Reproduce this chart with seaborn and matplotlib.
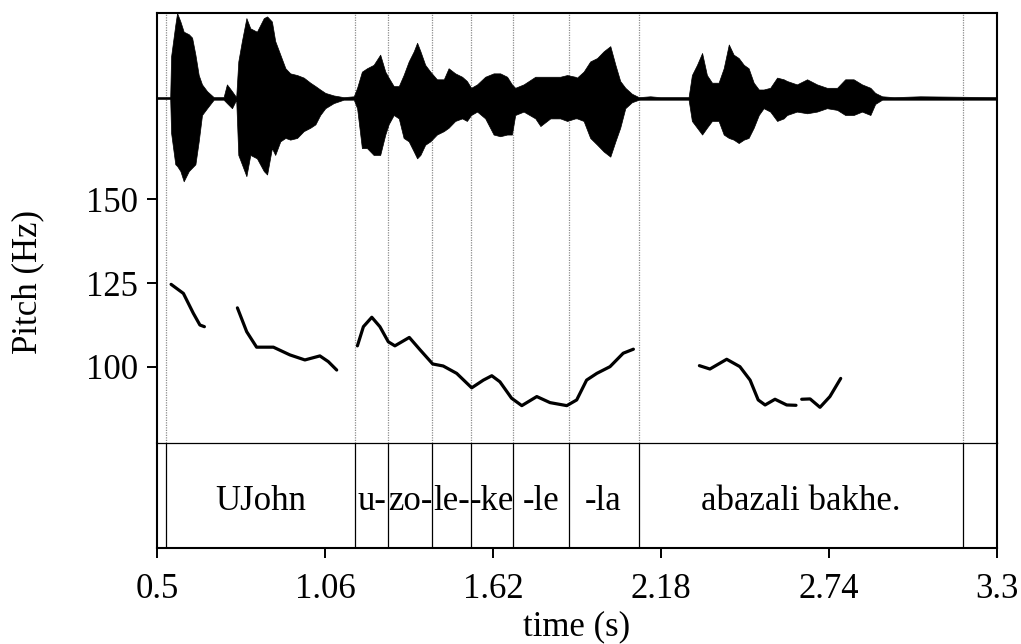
import pandas as pd
import seaborn as sns
import matplotlib.pyplot as plt

# waveform envelope (time in s, upper / lower amplitude, normalised)
wave_time = [0.500, 0.544, 0.547, 0.561, 0.567, 0.578, 0.589, 0.606, 0.617, 0.628,
             0.639, 0.650, 0.667, 0.689, 0.722, 0.733, 0.750, 0.764, 0.771, 0.783,
             0.798, 0.811, 0.833, 0.856, 0.867, 0.883, 0.894, 0.911, 0.928, 0.944,
             0.967, 0.989, 1.011, 1.028, 1.044, 1.061, 1.089, 1.122, 1.156, 1.167,
             1.183, 1.200, 1.222, 1.244, 1.261, 1.272, 1.289, 1.306, 1.322, 1.339,
             1.356, 1.367, 1.378, 1.394, 1.411, 1.433, 1.456, 1.472, 1.494, 1.517,
             1.533, 1.547, 1.567, 1.594, 1.622, 1.644, 1.667, 1.683, 1.694, 1.722,
             1.761, 1.778, 1.811, 1.844, 1.867, 1.894, 1.900, 1.922, 1.944, 1.967,
             1.989, 2.011, 2.028, 2.044, 2.061, 2.083, 2.106, 2.144, 2.178, 2.233,
             2.272, 2.283, 2.300, 2.317, 2.333, 2.350, 2.372, 2.389, 2.406, 2.422,
             2.439, 2.456, 2.472, 2.489, 2.506, 2.522, 2.544, 2.567, 2.589, 2.600,
             2.633, 2.667, 2.700, 2.733, 2.767, 2.794, 2.822, 2.850, 2.878, 2.894,
             2.917, 2.956, 3.044, 3.300]
wave_upper = [0.01, 0.01, 0.49, 0.86, 1.00, 0.90, 0.78, 0.75, 0.71, 0.51,
              0.27, 0.16, 0.08, 0.01, 0.01, 0.16, 0.08, 0.01, 0.43, 0.67,
              0.94, 0.82, 0.78, 0.94, 0.96, 0.90, 0.67, 0.51, 0.35, 0.29,
              0.27, 0.24, 0.18, 0.14, 0.10, 0.06, 0.03, 0.01, 0.02, 0.12,
              0.31, 0.35, 0.39, 0.51, 0.31, 0.24, 0.14, 0.14, 0.27, 0.43,
              0.55, 0.65, 0.55, 0.39, 0.31, 0.22, 0.22, 0.35, 0.29, 0.25,
              0.20, 0.12, 0.16, 0.25, 0.29, 0.29, 0.25, 0.16, 0.12, 0.16,
              0.25, 0.25, 0.25, 0.25, 0.27, 0.25, 0.24, 0.31, 0.43, 0.47,
              0.55, 0.61, 0.39, 0.20, 0.12, 0.05, 0.01, 0.02, 0.01, 0.01,
              0.01, 0.27, 0.39, 0.53, 0.27, 0.18, 0.18, 0.35, 0.63, 0.51,
              0.47, 0.39, 0.35, 0.18, 0.10, 0.10, 0.12, 0.24, 0.22, 0.20,
              0.16, 0.22, 0.16, 0.12, 0.12, 0.22, 0.22, 0.16, 0.12, 0.06,
              0.02, 0.01, 0.02, 0.01]
wave_lower = [-0.01, -0.01, -0.41, -0.78, -0.80, -0.86, -0.98, -0.86, -0.82, -0.78,
              -0.51, -0.20, -0.12, -0.02, -0.02, -0.06, -0.12, -0.02, -0.67, -0.78,
              -0.92, -0.67, -0.71, -0.86, -0.90, -0.59, -0.67, -0.51, -0.47, -0.49,
              -0.47, -0.39, -0.35, -0.31, -0.20, -0.12, -0.06, -0.02, -0.02, -0.12,
              -0.59, -0.59, -0.67, -0.67, -0.43, -0.31, -0.20, -0.24, -0.47, -0.51,
              -0.63, -0.71, -0.67, -0.55, -0.51, -0.43, -0.39, -0.35, -0.27, -0.24,
              -0.27, -0.20, -0.16, -0.24, -0.43, -0.45, -0.43, -0.43, -0.20, -0.16,
              -0.24, -0.33, -0.24, -0.24, -0.27, -0.24, -0.24, -0.27, -0.47, -0.55,
              -0.63, -0.69, -0.51, -0.35, -0.12, -0.05, -0.02, -0.02, -0.02, -0.02,
              -0.02, -0.27, -0.35, -0.43, -0.35, -0.27, -0.27, -0.43, -0.47, -0.49,
              -0.53, -0.49, -0.47, -0.35, -0.20, -0.12, -0.16, -0.27, -0.24, -0.20,
              -0.16, -0.18, -0.16, -0.12, -0.14, -0.20, -0.20, -0.16, -0.20, -0.07,
              -0.02, -0.02, -0.02, -0.02]

# pitch contour, one list per voiced stretch
pitch_time = [
    [0.547, 0.588, 0.621, 0.643, 0.658],
    [0.768, 0.799, 0.832, 0.888, 0.943, 0.993, 1.043, 1.071, 1.099],
    [1.168, 1.188, 1.216, 1.243, 1.271, 1.293, 1.341, 1.377, 1.419, 1.454,
     1.499, 1.549, 1.588, 1.616, 1.643, 1.682, 1.716, 1.766, 1.810, 1.866,
     1.899, 1.932, 1.966, 2.010, 2.054, 2.088],
    [2.308, 2.343, 2.399, 2.443, 2.477, 2.504, 2.527, 2.560, 2.599, 2.630],
    [2.649, 2.677, 2.710, 2.743, 2.779],
]
pitch_hz = [
    [124.6, 121.9, 116.0, 112.5, 112.0],
    [117.6, 110.5, 105.9, 105.9, 103.6, 102.1, 103.3, 101.6, 99.1],
    [106.3, 112.0, 114.8, 112.0, 107.5, 106.3, 108.8, 105.1, 100.9, 100.3,
     98.1, 93.8, 96.1, 97.4, 95.6, 90.7, 88.5, 91.2, 89.4, 88.5,
     90.2, 96.1, 98.1, 100.1, 104.1, 105.3],
    [100.4, 99.4, 102.3, 100.1, 96.1, 90.2, 88.7, 90.4, 88.7, 88.6],
    [90.4, 90.5, 88.0, 91.2, 96.6],
]

# text grid tier
boundaries = [0.530, 1.161, 1.271, 1.417, 1.548, 1.687, 1.872, 2.105, 3.188]
labels = ['UJohn', 'u-', 'zo-', 'le-', '-ke', '-le', '-la', 'abazali bakhe.']

x_ticks = [0.5, 1.06, 1.62, 2.18, 2.74, 3.3]
y_ticks = [100, 125, 150]

sns.set_theme(style='white')
plt.rcParams['font.family'] = ['Liberation Serif', 'DejaVu Serif']
plt.rcParams['text.color'] = 'black'
plt.rcParams['axes.labelcolor'] = 'black'

W, H = 1021, 644
fig = plt.figure(figsize=(W / 100, H / 100), dpi=100)

def box(left, top, right, bottom):
    return [left / W, 1 - bottom / H, (right - left) / W, (bottom - top) / H]

ax = fig.add_axes(box(157, 13, 997, 443))
ax_w = fig.add_axes(box(157, 13, 997, 183))
ax_t = fig.add_axes(box(157, 443, 997, 548))

# pitch
pitch_df = pd.DataFrame({
    'time': [t for seg in pitch_time for t in seg],
    'pitch': [p for seg in pitch_hz for p in seg],
    'seg': [i for i, seg in enumerate(pitch_time) for _ in seg],
})
for b in boundaries:
    ax.axvline(b, color='#8c8c8c', lw=0.9, ls=(0, (1, 1)), zorder=1)
sns.lineplot(data=pitch_df, x='time', y='pitch', units='seg', estimator=None,
             color='black', lw=2.3, ax=ax, zorder=3)
ax.set_xlim(0.5, 3.3)
ax.set_ylim(77.38, 205.36)
ax.set_yticks(y_ticks)
ax.set_xticks([])
ax.set_xlabel('')
ax.set_ylabel('Pitch (Hz)', fontsize=25, va='center')
ax.yaxis.set_label_coords(-0.154, 0.374)
ax.tick_params(axis='y', direction='out', length=7.5, width=1.4, pad=6,
               labelsize=25, left=True, colors='black')
for side in ['top', 'left', 'right']:
    ax.spines[side].set_linewidth(1.5)
    ax.spines[side].set_color('black')
ax.spines['bottom'].set_visible(False)

# waveform
wave_df = pd.DataFrame({'time': wave_time, 'upper': wave_upper, 'lower': wave_lower})
ax_w.fill_between(wave_df['time'], wave_df['lower'], wave_df['upper'],
                  color='black', lw=0.5)
ax_w.set_xlim(0.5, 3.3)
ax_w.set_ylim(-1, 1)
ax_w.axis('off')
ax_w.patch.set_visible(False)

# text grid
for b in boundaries:
    ax_t.axvline(b, color='black', lw=0.9)
edges = boundaries
for i, lab in enumerate(labels):
    mid = (edges[i] + edges[i + 1]) / 2
    ax_t.text(mid, 0.362, lab, ha='center', va='baseline', fontsize=25,
              color='black', transform=ax_t.get_xaxis_transform())
ax_t.set_xlim(0.5, 3.3)
ax_t.set_ylim(0, 1)
ax_t.set_yticks([])
ax_t.set_xticks(x_ticks)
ax_t.set_xticklabels(['0.5', '1.06', '1.62', '2.18', '2.74', '3.3'])
ax_t.tick_params(axis='x', direction='out', length=7.5, width=1.4, pad=10.5,
                 labelsize=25, bottom=True, colors='black')
ax_t.set_xlabel('time (s)', fontsize=25, labelpad=3)
for side in ['left', 'right', 'bottom']:
    ax_t.spines[side].set_linewidth(1.5)
    ax_t.spines[side].set_color('black')
ax_t.spines['top'].set_linewidth(0.9)
ax_t.spines['top'].set_color('black')

fig.savefig('out.png', dpi=100)
